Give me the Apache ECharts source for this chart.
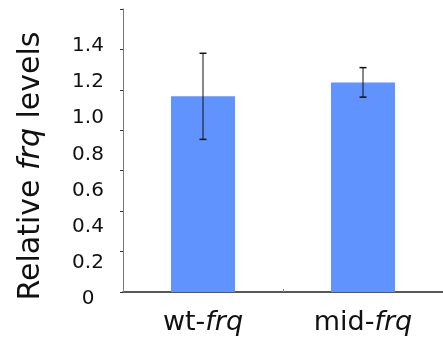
<!DOCTYPE html>
<html>
<head>
<meta charset="utf-8">
<script src="https://cdn.jsdelivr.net/npm/echarts@6/dist/echarts.min.js"></script>
<style>html,body{margin:0;padding:0;background:#fff}#c{width:443px;height:347px}</style>
</head>
<body>
<div id="c"></div>
<script>
const categories = ['wt', 'mid'];
const values = [0.968, 1.037];
const errors = [0.213, 0.073];
const yTicks = ['0', '0.2', '0.4', '0.6', '0.8', '1.0', '1.2', '1.4'];

const FONT = 'DejaVu Sans';
const chart = echarts.init(document.getElementById('c'), null, {renderer: 'canvas'});
const errData = values.map((v, i) => [i, v - errors[i], v + errors[i]]);

chart.setOption({
  animation: false,
  backgroundColor: '#fff',
  grid: [
    {left: 123, top: 9, width: 320, height: 283, containLabel: false},
    {left: 123, top: 46, width: 320, height: 253, containLabel: false}
  ],
  xAxis: [
    {
      type: 'category', gridIndex: 0, data: categories,
      axisLine: {lineStyle: {color: '#222', width: 1.5}},
      axisTick: {show: true, inside: true, length: 3, lineStyle: {color: '#888'}},
      axisLabel: {
        margin: 17,
        formatter: v => '{a|' + v + '-}{b|frq}',
        rich: {
          a: {fontFamily: FONT, fontSize: 27, color: '#111'},
          b: {fontFamily: FONT, fontSize: 27, fontStyle: 'italic', color: '#111'}
        }
      }
    },
    {type: 'category', gridIndex: 1, data: categories, show: false}
  ],
  yAxis: [
    {
      type: 'value', gridIndex: 0, min: 0, max: 1.4, interval: 0.2,
      axisLine: {show: true, lineStyle: {color: '#777', width: 1}},
      axisTick: {show: true, length: 3, lineStyle: {color: '#333'}},
      axisLabel: {show: false},
      splitLine: {show: false}
    },
    {
      type: 'value', gridIndex: 1, min: 0, max: 1.4, interval: 0.2,
      axisLine: {show: false}, axisTick: {show: false}, splitLine: {show: false},
      axisLabel: {
        margin: 35, align: 'center',
        fontFamily: FONT, fontSize: 20, color: '#111',
        formatter: (v, i) => yTicks[i]
      }
    }
  ],
  graphic: [{
    type: 'text', x: 31, y: 166, rotation: Math.PI / 2,
    style: {
      text: '{a|Relative }{b|frq}{a| levels}',
      align: 'center', verticalAlign: 'middle',
      rich: {
        a: {fontFamily: FONT, fontSize: 30, fill: '#111'},
        b: {fontFamily: FONT, fontSize: 30, fontStyle: 'italic', fill: '#111'}
      }
    }
  }],
  series: [
    {
      type: 'bar', xAxisIndex: 0, yAxisIndex: 0, data: values,
      barWidth: '40%', itemStyle: {color: '#6193ff'}
    },
    {
      type: 'custom', xAxisIndex: 0, yAxisIndex: 0, data: errData, z: 10,
      renderItem: (params, api) => {
        const x = api.value(0);
        const lo = api.coord([x, api.value(1)]);
        const hi = api.coord([x, api.value(2)]);
        const hw = 3.5;
        const st = {stroke: '#111', lineWidth: 1};
        return {type: 'group', children: [
          {type: 'line', shape: {x1: lo[0], y1: lo[1], x2: hi[0], y2: hi[1]}, style: st},
          {type: 'line', shape: {x1: lo[0] - hw, y1: lo[1], x2: lo[0] + hw, y2: lo[1]}, style: {stroke: '#111', lineWidth: 1.5}},
          {type: 'line', shape: {x1: hi[0] - hw, y1: hi[1], x2: hi[0] + hw, y2: hi[1]}, style: {stroke: '#111', lineWidth: 1.5}}
        ]};
      }
    }
  ]
});
</script>
</body>
</html>
